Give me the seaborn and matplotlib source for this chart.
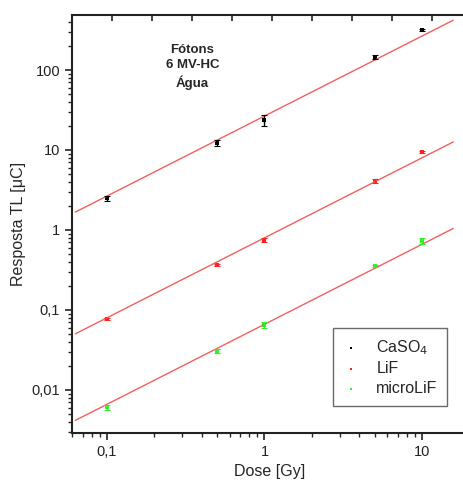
import numpy as np
import pandas as pd
import matplotlib
matplotlib.use("Agg")
import matplotlib.pyplot as plt
import seaborn as sns
from matplotlib.ticker import FixedLocator, FixedFormatter, LogLocator, NullFormatter

sns.set_theme(style="ticks")
plt.rcParams["font.family"] = ["Liberation Sans", "DejaVu Sans"]

# data
dose = [0.1, 0.5, 1, 5, 10]
caso4 = [2.5, 12.2, 23.7, 145, 316]
caso4_err = [0.18, 1.0, 3.5, 8, 13]
lif = [0.077, 0.365, 0.75, 4.1, 9.4]
lif_err = [0.002, 0.01, 0.04, 0.25, 0.3]
microlif = [0.0061, 0.031, 0.065, 0.355, 0.73]
microlif_err = [0.0004, 0.002, 0.005, 0.015, 0.06]

series = {
    "CaSO$_4$": (caso4, caso4_err, "black"),
    "LiF": (lif, lif_err, "#ff2020"),
    "microLiF": (microlif, microlif_err, "#30f030"),
}
fit_range = [0.063, 15.8]

fig = plt.figure(figsize=(4.64, 4.84), dpi=100)
ax = fig.add_axes([72 / 464, 51 / 484, 395 / 464, 418 / 484])

for name, (vals, errs, col) in series.items():
    df = pd.DataFrame({"dose": dose, "resp": vals})
    # linear fit y = a*x (slope 1 on log-log)
    a = 10 ** np.mean(np.log10(np.array(vals) / np.array(dose)))
    xf = np.array(fit_range)
    fit = pd.DataFrame({"dose": xf, "resp": a * xf})
    sns.lineplot(data=fit, x="dose", y="resp", ax=ax, color="#f06060", lw=1)
    ax.errorbar(dose, vals, yerr=errs, fmt="none", ecolor=col, elinewidth=1,
                capsize=2, capthick=0.8)
    sns.scatterplot(data=df, x="dose", y="resp", ax=ax, color=col, marker="s",
                    s=6, linewidth=0, label=name)

ax.set_xscale("log")
ax.set_yscale("log")
ax.set_xlim(0.06, 19.3)
ax.set_ylim(0.0029, 487)

ax.xaxis.set_major_locator(FixedLocator([0.1, 1, 10]))
ax.xaxis.set_major_formatter(FixedFormatter(["0,1", "1", "10"]))
ax.xaxis.set_minor_locator(LogLocator(base=10, subs=np.arange(2, 10)))
ax.xaxis.set_minor_formatter(NullFormatter())
ax.yaxis.set_major_locator(FixedLocator([0.01, 0.1, 1, 10, 100]))
ax.yaxis.set_major_formatter(FixedFormatter(["0,01", "0,1", "1", "10", "100"]))
ax.yaxis.set_minor_locator(LogLocator(base=10, subs=np.arange(2, 10)))
ax.yaxis.set_minor_formatter(NullFormatter())
ax.tick_params(which="major", length=5, width=1.2, labelsize=10.5, colors="#222222")
ax.tick_params(which="minor", length=3, width=1)

ax.set_xlabel("Dose [Gy]", fontsize=11.5)
ax.set_ylabel("Resposta TL [\u03bcC]", fontsize=11.5)

for s in ["left", "bottom", "top"]:
    ax.spines[s].set_linewidth(1.5)
    ax.spines[s].set_color("#222222")
ax.spines["right"].set_visible(False)

# top axis tick marks (no labels)
top = ax.twiny()
top.set_xlim(0, 395 / 40)
top.set_xticks(np.arange(0, 10))
top.set_xticklabels([])
top.tick_params(axis="x", direction="in", length=4, width=1.2, colors="#222222")
for s in top.spines.values():
    s.set_visible(False)

ax.text(0.305, 0.93, "Fótons\n6 MV-HC\nÁgua", transform=ax.transAxes,
        ha="center", va="top", fontsize=9.5, fontweight="bold", linespacing=1.35)

leg = ax.legend(loc="lower left", bbox_to_anchor=(258 / 395, 24 / 418),
                fontsize=11.5, frameon=True, fancybox=False, markerscale=0.7,
                handlelength=1.0, handletextpad=1.1, borderpad=0.6,
                borderaxespad=0.2, labelspacing=0.3)
leg.get_frame().set_edgecolor("#444444")
leg.get_frame().set_linewidth(1)

fig.savefig("out.png", dpi=100)
